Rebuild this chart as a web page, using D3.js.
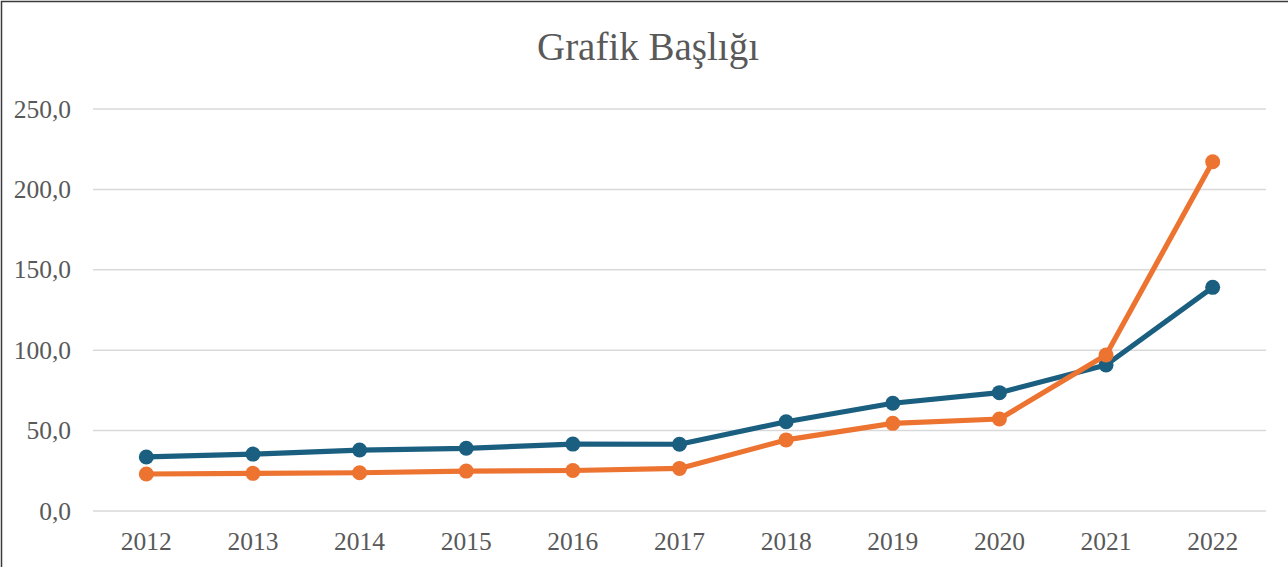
<!DOCTYPE html>
<html>
<head>
  <meta charset="utf-8">
  <script src="https://cdn.jsdelivr.net/npm/d3@7"></script>
  <style>
    body { margin: 0; background: #fff; }
    svg { display: block; }
  </style>
</head>
<body>
  <svg id="chart"></svg>
<script>
  var width = 1288;
  var height = 567;

  // data
  var years = ["2012", "2013", "2014", "2015", "2016", "2017", "2018", "2019", "2020", "2021", "2022"];
  var seriesBlue = [33.6, 35.4, 37.9, 39.0, 41.6, 41.5, 55.5, 67.0, 73.6, 90.8, 139.1];
  var seriesOrange = [23.0, 23.4, 23.8, 24.8, 25.2, 26.5, 44.2, 54.5, 57.2, 97.0, 217.2];
  var yTicks = [0, 50, 100, 150, 200, 250];
  var title = "Grafik Başlığı";

  var series = [
    { values: seriesBlue, color: "#1b5f80" },
    { values: seriesOrange, color: "#ed7331" }
  ];

  var margin = { left: 93, right: 22, top: 109, bottom: 56 };

  var svg = d3.select("#chart").attr("width", width).attr("height", height);

  // frame (only left and top edges show in the picture)
  svg.append("path")
    .attr("d", "M1.5," + height + "V1.5H" + width)
    .attr("fill", "none")
    .attr("stroke", "#3a3a3a")
    .attr("stroke-width", 1.5);

  var x = d3.scaleBand()
    .domain(years)
    .range([margin.left, width - margin.right]);

  var y = d3.scaleLinear()
    .domain([0, 250])
    .range([height - margin.bottom, margin.top]);

  var font = "'Liberation Serif', 'Times New Roman', serif";

  svg.append("text")
    .attr("x", 648)
    .attr("y", 60)
    .attr("text-anchor", "middle")
    .style("font-family", font)
    .style("font-size", "39px")
    .style("fill", "#595959")
    .text(title);

  // y labels
  var yAxis = svg.append("g")
    .call(d3.axisLeft(y).tickValues(yTicks).tickSize(0).tickPadding(0)
      .tickFormat(function(d) { return d3.format(".1f")(d).replace(".", ","); }));
  yAxis.select(".domain").remove();
  yAxis.attr("transform", "translate(71,0)");
  yAxis.selectAll("text")
    .attr("x", 0)
    .attr("dy", "0.32em")
    .style("font-family", font)
    .style("font-size", "25.5px")
    .style("fill", "#595959");

  // grid
  svg.append("g").selectAll("line")
    .data(yTicks)
    .enter()
    .append("line")
    .attr("x1", margin.left)
    .attr("x2", width - margin.right)
    .attr("y1", function(d) { return y(d); })
    .attr("y2", function(d) { return y(d); })
    .attr("stroke", "#d9d9d9")
    .attr("stroke-width", 1.5);

  // x labels
  var xAxis = svg.append("g")
    .attr("transform", "translate(0," + (height - margin.bottom) + ")")
    .call(d3.axisBottom(x).tickSize(0).tickPadding(0));
  xAxis.select(".domain").remove();
  xAxis.selectAll("text")
    .attr("y", 39)
    .attr("dy", 0)
    .style("font-family", font)
    .style("font-size", "25.5px")
    .style("fill", "#595959");

  var cx = function(d, i) { return x(years[i]) + x.bandwidth() / 2; };

  var line = d3.line()
    .x(cx)
    .y(function(d) { return y(d); });

  series.forEach(function(s) {
    var g = svg.append("g");
    g.append("path")
      .datum(s.values)
      .attr("d", line)
      .attr("fill", "none")
      .attr("stroke", s.color)
      .attr("stroke-width", 5.2)
      .attr("stroke-linejoin", "round");
    g.selectAll("circle")
      .data(s.values)
      .enter()
      .append("circle")
      .attr("cx", cx)
      .attr("cy", function(d) { return y(d); })
      .attr("r", 7.5)
      .attr("fill", s.color);
  });
</script>
</body>
</html>
